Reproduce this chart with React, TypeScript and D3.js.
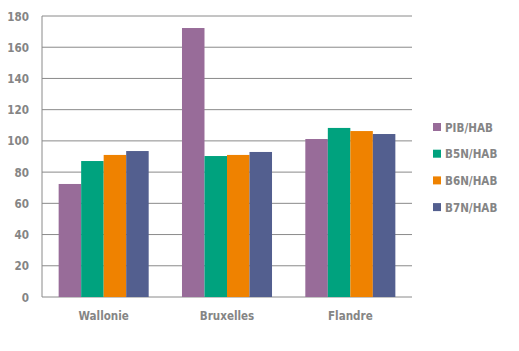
import React, { useEffect, useRef } from 'react';
import * as d3 from 'd3';

const regions = ['Wallonie', 'Bruxelles', 'Flandre'];
const seriesNames = ['PIB/HAB', 'B5N/HAB', 'B6N/HAB', 'B7N/HAB'];
const seriesColors = ['#986c99', '#00a27e', '#ef8200', '#535f8f'];
const pibHab = [72.4, 172.3, 101.2];
const b5nHab = [87.1, 90.3, 108.3];
const b6nHab = [91, 91, 106.3];
const b7nHab = [93.5, 92.9, 104.4];
const yTicks = [0, 20, 40, 60, 80, 100, 120, 140, 160, 180];

const W = 519;
const H = 351;
const margin = { top: 16, right: 107, bottom: 54, left: 42 };
const font = '"DejaVu Sans", sans-serif';
const textColor = '#858585';
const squeeze = 0.8; // narrow the glyphs, the original uses a condensed face

const App: React.FC = () => {
  const svgRef = useRef<SVGSVGElement>(null);

  useEffect(() => {
    const svg = d3.select(svgRef.current);
    svg.selectAll('*').remove();

    const values = [pibHab, b5nHab, b6nHab, b7nHab];
    const innerW = W - margin.left - margin.right;
    const innerH = H - margin.top - margin.bottom;

    const x0 = d3.scaleBand<string>().domain(regions).range([0, innerW]).paddingInner(0.27).paddingOuter(0.135);
    const x1 = d3.scaleBand<string>().domain(seriesNames).range([0, x0.bandwidth()]);
    const y = d3.scaleLinear().domain([0, 180]).range([innerH, 0]);

    const g = svg.append('g').attr('transform', `translate(${margin.left},${margin.top})`);

    // gridlines
    g.selectAll('.grid')
      .data(yTicks)
      .enter().append('line')
      .attr('x1', 0)
      .attr('x2', innerW)
      .attr('y1', d => y(d))
      .attr('y2', d => y(d))
      .attr('stroke', '#8a8a8a')
      .attr('stroke-width', 1);

    g.append('line')
      .attr('x1', 0).attr('x2', 0)
      .attr('y1', 0).attr('y2', innerH)
      .attr('stroke', '#8a8a8a');

    const styleText = (sel: any) => sel
      .attr('fill', textColor)
      .attr('font-family', font)
      .attr('font-weight', 'bold')
      .attr('font-size', 13);

    // y labels
    g.selectAll('.ylab')
      .data(yTicks)
      .enter().append('text')
      .attr('transform', d => `translate(-13,${y(d)}) scale(${squeeze},1)`)
      .attr('dy', '0.35em')
      .attr('text-anchor', 'end')
      .call(styleText)
      .text(d => d);

    // bars
    regions.forEach((r, i) => {
      seriesNames.forEach((s, j) => {
        const v = values[j][i];
        g.append('rect')
          .attr('x', (x0(r) ?? 0) + (x1(s) ?? 0))
          .attr('y', y(v))
          .attr('width', x1.bandwidth())
          .attr('height', innerH - y(v))
          .attr('fill', seriesColors[j]);
      });
    });

    // x labels
    g.selectAll('.xlab')
      .data(regions)
      .enter().append('text')
      .attr('transform', d => `translate(${(x0(d) ?? 0) + x0.bandwidth() / 2},${innerH + 23}) scale(${squeeze},1)`)
      .attr('text-anchor', 'middle')
      .call(styleText)
      .text(d => d);

    // legend
    const legend = svg.append('g').attr('transform', 'translate(433,127)');
    seriesNames.forEach((s, j) => {
      const row = legend.append('g').attr('transform', `translate(0,${j * 26.7})`);
      row.append('rect')
        .attr('x', 0).attr('y', -4)
        .attr('width', 8).attr('height', 8)
        .attr('fill', seriesColors[j]);
      row.append('text')
        .attr('transform', `translate(12,0) scale(${squeeze},1)`)
        .attr('dy', '0.35em')
        .call(styleText)
        .text(s);
    });
  }, []);

  return (
    <svg ref={svgRef} width={W} height={H} style={{ position: 'absolute', left: 0, top: 0, background: '#fff' }} />
  );
};

export default App;
